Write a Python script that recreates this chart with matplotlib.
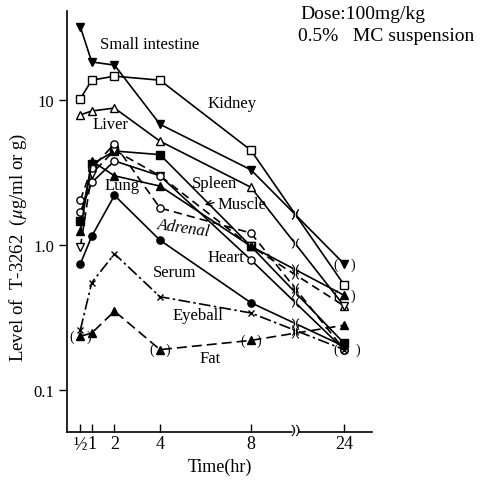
import numpy as np
import matplotlib
matplotlib.use("Agg")
import matplotlib.pyplot as plt
import matplotlib.transforms as mtransforms

plt.rcParams['font.family'] = ['Liberation Serif', 'DejaVu Serif']
plt.rcParams['mathtext.fontset'] = 'stix'

# sampling times (hr) and where they sit on the broken axis
timeLabels = ['½', '1', '2', '4', '8', '24']
timePos = [0.5, 1, 2, 4, 8, 12.1]
breakPos = 9.93

# tissue levels (ug/ml or g)
smallIntestine = [31.9, 18.3, 17.4, 6.8, 3.3, 0.74]
kidney = [10.2, 13.7, 14.6, 13.7, 4.5, 0.53]
liver = [7.9, 8.4, 8.8, 5.2, 2.5, 0.38]
muscle = [1.46, 3.6, 4.45, 4.2, 0.98, 0.21]
spleen = [0.97, 3.1, 4.5, 3.0, 0.98, 0.38]
heart = [1.69, 2.7, 3.8, 3.0, 0.79, 0.19]
adrenal = [2.04, 3.4, 4.97, 1.8, 1.21, 0.19]
lung = [1.25, 3.8, 3.0, 2.55, 0.98, 0.45]
serum = [0.74, 1.15, 2.2, 1.08, 0.40, 0.20]
eyeball = [0.26, 0.55, 0.87, 0.44, 0.34, 0.19]
fat = [0.235, 0.247, 0.35, 0.19, 0.22, 0.28]

# name, values, marker, filled, linestyle, points drawn in parentheses (index, side)
series = [
    ('Small intestine', smallIntestine, 'v', True, '-', [(5, 'both')]),
    ('Kidney', kidney, 's', False, '-', []),
    ('Liver', liver, '^', False, '-', []),
    ('Muscle', muscle, 's', True, '-', []),
    ('Spleen', spleen, 'v', False, (0, (5, 3)), []),
    ('Heart', heart, 'o', False, '-', []),
    ('Adrenal', adrenal, 'o', False, (0, (5, 3)), [(5, 'right')]),
    ('Lung', lung, '^', True, '-', [(5, 'both')]),
    ('Serum', serum, 'o', True, '-', []),
    ('Eyeball', eyeball, 'x', True, (0, (7, 2, 1.5, 2)), [(5, 'left')]),
    ('Fat', fat, '^', True, (0, (6, 3)), [(0, 'both'), (3, 'both'), (4, 'both')]),
]

fig = plt.figure(figsize=(4.92, 4.85), dpi=100)
ax = fig.add_axes([0.137, 0.107, 0.619, 0.868])
ax.set_yscale('log')
ax.set_xlim(-0.07, 13.32)
ax.set_ylim(0.0513, 41)

for name, vals, mk, filled, ls, parens in series:
    ms = 5.2 if mk != 'x' else 5.0
    ax.plot(timePos, vals, color='black', lw=1.2, ls=ls, marker=mk, ms=ms,
            mfc='black' if filled else 'white', mec='black', mew=1.0,
            clip_on=False, zorder=3)
    # break symbol where each line crosses the axis break
    frac = (breakPos - timePos[4]) / (timePos[5] - timePos[4])
    yb = 10 ** (np.log10(vals[4]) + frac * (np.log10(vals[5]) - np.log10(vals[4])))
    ax.plot([breakPos], [yb], marker='s', ms=3.5, mfc='white', mec='none', zorder=4)
    ax.plot([breakPos], [yb], marker=r'$)($', ms=7, color='black', mew=0.3, zorder=5)
    for i, side in parens:
        off = 9.5 if name == 'Adrenal' else 6
        if side in ('both', 'left'):
            ax.annotate('(', (timePos[i], vals[i]), xytext=(-off, 0), textcoords='offset points',
                        ha='center', va='center', fontsize=10, annotation_clip=False)
        if side in ('both', 'right'):
            ax.annotate(')', (timePos[i], vals[i]), xytext=(off, 0), textcoords='offset points',
                        ha='center', va='center', fontsize=10, annotation_clip=False)

# axes styling
for side in ['top', 'right']:
    ax.spines[side].set_visible(False)
ax.spines['left'].set_linewidth(1.2)
ax.spines['bottom'].set_linewidth(1.2)
ax.set_yticks([0.1, 1.0, 10])
ax.set_yticklabels(['0.1', '1.0', '10'], fontsize=12)
ax.yaxis.set_minor_locator(matplotlib.ticker.NullLocator())
ax.tick_params(axis='y', direction='out', length=6, width=1.0)
ax.set_xticks(timePos)
ax.set_xticklabels(timeLabels, fontsize=13)
ax.tick_params(axis='x', direction='in', length=6, width=1.0, pad=2)

# break on the time axis
trans = mtransforms.blended_transform_factory(ax.transData, ax.transAxes)
ax.plot([breakPos], [0], marker='s', ms=5, mfc='white', mec='none', transform=trans,
        clip_on=False, zorder=4)
ax.plot([breakPos], [0.004], marker=r'$))$', ms=8, color='black', mew=0.3, transform=trans,
        clip_on=False, zorder=5)

ax.set_xlabel('Time(hr)', fontsize=13, labelpad=4)
ax.set_ylabel('Level of  T-3262  ($\\mu$g/ml or g)', fontsize=13.5)
ax.yaxis.set_label_coords(-0.125, 0.44)

# curve labels
labelSpecs = [
    ('Small intestine', 1.36, 24.3, 0),
    ('Kidney', 6.1, 9.5, 0),
    ('Liver', 1.05, 6.8, 0),
    ('Lung', 1.58, 2.59, 0),
    ('Spleen', 5.4, 2.68, 0),
    ('Muscle', 6.55, 1.92, 0),
    ('Adrenal', 3.9, 1.40, -8),
    ('Heart', 6.1, 0.83, 0),
    ('Serum', 3.7, 0.65, 0),
    ('Eyeball', 4.53, 0.33, 0),
    ('Fat', 5.76, 0.166, 0),
]
for txt, x, y, rot in labelSpecs:
    ax.text(x, y, txt, fontsize=12, ha='left', va='center', rotation=rot,
            rotation_mode='anchor', style='italic' if txt == 'Adrenal' else 'normal')
ax.annotate('', xy=(5.85, 1.88), xytext=(6.5, 1.98),
            arrowprops=dict(arrowstyle='->', lw=0.9, color='black'))

fig.text(0.61, 0.971, 'Dose:100mg/kg', fontsize=14, ha='left', va='center')
fig.text(0.605, 0.924, '0.5%   MC suspension', fontsize=14, ha='left', va='center')

fig.savefig('out.png', dpi=100)
